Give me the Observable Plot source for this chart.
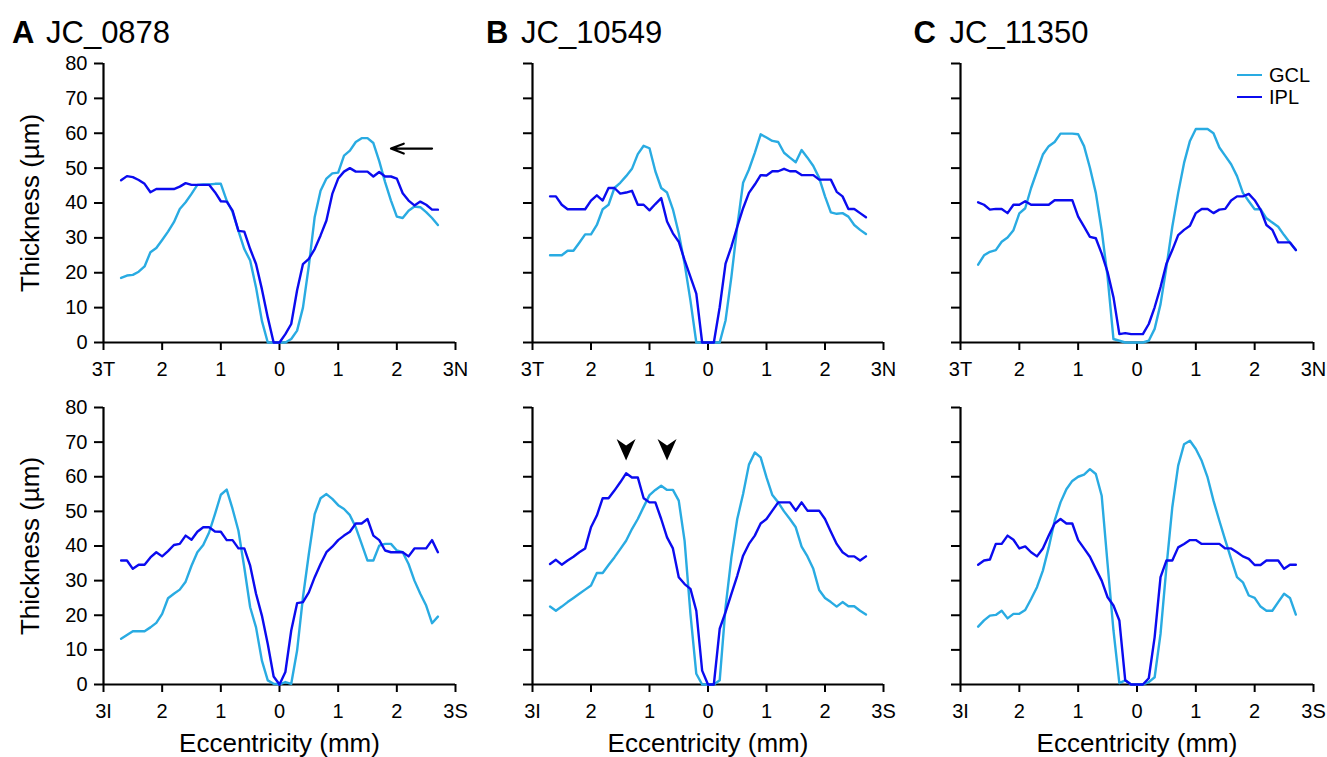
<!DOCTYPE html>
<html>
<head>
<meta charset="utf-8">
<script src="https://cdn.jsdelivr.net/npm/d3@7"></script>
<script src="https://cdn.jsdelivr.net/npm/@observablehq/plot@0.6"></script>
<style>
  html, body { margin: 0; padding: 0; background: #fff; }
  #fig { position: relative; width: 1327px; height: 757px; overflow: hidden; font-family: "Liberation Sans", Arial, sans-serif; color: #000; }
  .t { position: absolute; font-size: 31px; line-height: 31px; white-space: nowrap; }
  .t.b { font-weight: bold; }
  .leg { position: absolute; display: flex; align-items: center; font-size: 20px; line-height: 20px; white-space: nowrap; }
  .leg i { display: inline-block; width: 25px; height: 2.6px; margin-right: 7px; }
</style>
</head>
<body>
<div id="fig"></div>
<script>
// ---------- data ----------
const ecc = [-2.7,-2.6,-2.5,-2.4,-2.3,-2.2,-2.1,-2.0,-1.9,-1.8,-1.7,-1.6,-1.5,-1.4,-1.3,-1.2,-1.1,-1.0,-0.9,-0.8,-0.7,-0.6,-0.5,-0.4,-0.3,-0.2,-0.1,
  0,0.1,0.2,0.3,0.4,0.5,0.6,0.7,0.8,0.9,1.0,1.1,1.2,1.3,1.4,1.5,1.6,1.7,1.8,1.9,2.0,2.1,2.2,2.3,2.4,2.5,2.6,2.7];

const xTicks = [-3, -2, -1, 0, 1, 2, 3];
const xLabelsTN = ["3T", "2", "1", "0", "1", "2", "3N"];
const xLabelsIS = ["3I", "2", "1", "0", "1", "2", "3S"];
const yTicks = [0, 10, 20, 30, 40, 50, 60, 70, 80];

const panelIds = ["A", "B", "C"];
const panelNames = ["JC_0878", "JC_10549", "JC_11350"];
const layers = ["GCL", "IPL"];
const layerColors = ["#29abe2", "#0b0bef"];

// Horizontal meridian (T–N)
const aTopGCL = [18.5,19.2,19.4,20.3,21.8,25.9,27.1,29.4,31.8,34.5,38.3,40.2,42.6,45.2,45.3,45.3,45.5,45.5,40.7,37.4,32,26.8,23.5,15.8,6.2,0,0,
  0,0,1,3.4,10,22,36,43.5,47,48.5,48.7,53.6,55,57.5,58.6,58.6,57.2,52,46,40.7,36.1,35.7,37.8,39,38.8,37.4,35.7,33.7];
const aTopIPL = [46.5,47.7,47.4,46.6,45.5,43.1,44,44,44,44,44.7,45.7,45.2,45.2,45.2,45.2,43.1,40.5,40.4,37.8,32,31.8,26.8,22.5,15.3,7.2,0,
  0,2.4,5.3,15,22.5,24,26.8,30.7,35,42.6,47,49,50,49,49,49,47.6,48.9,47.6,47.6,47,42.8,40.7,39.3,40.4,39.5,38.1,38.1];
const bTopGCL = [25,25,25,26.3,26.3,28.6,31,31,33.7,38.2,39.5,44.3,45.8,47.7,49.8,54,56.4,55.7,49.1,44.3,43,38.2,31.3,22.6,12,0,0,
  0,0,0,6.3,18.8,33.2,45.8,49.6,54.4,59.7,58.8,57.8,57.5,54.4,53,51.7,55.2,53,50.6,47.2,41.9,37.3,36.9,37.1,36.1,33.7,32.3,31.1];
const bTopIPL = [41.9,41.9,39.5,38.2,38.2,38.2,38.2,40.7,42.2,40.7,44.3,44.3,42.7,43,43.5,39.5,39.5,37.9,39.7,41.4,34.7,31.3,28.9,23.6,18.8,14,0,
  0,0,10.1,22.6,27.5,33.2,38.5,42.9,45.3,48,47.9,49.1,49.1,49.8,49.1,49.1,48,48,48,46.7,46.7,46.7,43.2,41.9,38.3,38.3,37.1,35.9];
const cTopGCL = [22.3,25,26,26.5,28.9,30.1,32.2,37,38.5,44.3,49.1,53.9,56.3,57.5,59.9,59.9,59.9,59.7,56.3,50.1,42.9,32.2,18.8,1,0.5,0,0,
  0,0,0.5,3.9,11,21.6,33.2,42.9,51.5,57.8,61.2,61.2,61.2,60,55.9,53.5,51.1,47.7,42.9,40.5,38.2,38.2,35.6,34.4,33.2,30.8,28.6,26.5];
const cTopIPL = [40.2,39.5,38.1,38.3,38.3,37.1,39.5,39.5,40.5,39.5,39.5,39.5,39.5,40.8,40.8,40.8,40.8,36.1,33.2,30.3,29.9,25.5,20.2,13,2.4,2.7,2.4,
  2.4,2.4,5.3,10.1,15.9,22.6,26.5,30.8,32.3,33.5,37.1,38.3,38.3,37.1,38.1,38.3,40.7,41.9,41.9,42.6,40.8,38.1,33.7,32.3,28.7,28.7,28.7,26.5];

// Vertical meridian (I–S)
const aBotGCL = [13.2,14.3,15.4,15.4,15.4,16.5,17.8,20.4,24.9,26.2,27.4,29.7,34.3,38.2,40.3,43.9,49.2,54.8,56.3,50.7,44.4,33.8,22.3,16.5,6.9,1.2,0.2,
  0,0.7,0.2,9.8,25.2,37.7,49.2,53.8,55,53.6,51.8,50.7,48.9,45.4,40.6,35.8,35.8,40.1,40.6,40.6,38.7,38.2,34.8,30,26.2,22.8,17.7,19.6];
const aBotIPL = [35.8,35.8,33.4,34.6,34.6,36.7,38.2,37,38.5,40.3,40.6,43,41.8,44.1,45.4,45.4,44.2,44.1,41.7,41.7,39.3,39.3,34.3,26.2,19.9,11.7,2.3,
  0,3.6,15.6,23.5,23.8,26.6,31,34.8,38.2,39.8,41.7,43,44.1,46.5,46.5,47.8,43,41.7,38.7,38.2,38.2,38.2,37,39.3,39.3,39.3,41.7,38.2];
const bBotGCL = [22.5,21.3,22.5,23.8,25,26.2,27.4,28.6,32.2,32.2,34.5,36.7,39.1,41.5,44.9,47.8,51.3,54.7,56.2,57.4,56.2,56.2,53.1,41.5,20.4,3.1,0,
  0,0,1.2,22.3,36.7,47.8,55,63.5,67,65.6,59.8,54.7,52.6,50,47.8,45.4,39.8,37,33.4,27.3,25,23.8,22.5,23.8,22.6,22.6,21.3,20.2];
const bBotIPL = [34.8,36,34.6,35.8,36.9,38.2,39.3,45.4,48.8,53.8,53.8,56,58.4,61,59.8,59.8,53.8,52.6,52.6,47.8,42.5,39.3,31,29,27.6,21.3,4,
  0,0,16.1,20.9,26.2,31.4,37.2,40.6,43,46.5,47.8,50.2,52.6,52.6,52.6,50.2,52.6,50.2,50.2,50.2,47.8,44.1,40.6,38.2,37,37,35.8,37];
const cBotGCL = [16.7,18.5,19.9,20.1,21.3,19.1,20.4,20.4,21.5,24.7,28.1,32.9,39.6,47.3,52.6,56.4,58.8,60,60.6,62.2,60.8,54.5,34.8,15.6,0.4,1.2,0,
  0,0,0.7,2.1,14.6,33.8,51.2,63.2,69.4,70.4,68,64.6,59.8,53.1,47.3,41.7,36.3,31,29.5,25.7,25,22.5,21.3,21.3,23.8,26.2,25,20.2];
const cBotIPL = [34.6,35.8,36.1,40.6,40.6,43,41.8,39.3,39.9,38.2,37,39.3,43,46.5,47.8,46.5,46.5,41.7,39.3,36.9,33.4,30,25.2,22.8,18.5,1.2,0,
  0,0,1.8,13.7,31,35.8,35.8,39.6,40.6,41.7,41.7,40.6,40.6,40.6,40.6,39.3,39.3,38.2,37,36.3,34.5,34.5,35.8,35.8,35.8,33.4,34.6,34.6];

// annotations
const arrowA = [{x1: 2.6, x2: 1.9, y: 55.6}];            // arrow in panel A (top)
const arrowheadsB = [{x: -1.4, y: 64.7}, {x: -0.7, y: 64.7}]; // arrowheads in panel B (bottom), tip positions

// ---------- layout ----------
const FONT = '"Liberation Sans", Arial, Helvetica, sans-serif';
const cols = [
  {left: 0,   width: 470, ml: 103, mr: 15},
  {left: 470, width: 430, ml: 62,  mr: 17},
  {left: 900, width: 427, ml: 60,  mr: 14}
];
const rows = [
  {top: 0,   height: 385, mt: 63, mb: 43, labels: xLabelsTN},
  {top: 385, height: 372, mt: 22, mb: 73, labels: xLabelsIS}
];
const series = [
  [[aTopGCL, aTopIPL], [bTopGCL, bTopIPL], [cTopGCL, cTopIPL]],
  [[aBotGCL, aBotIPL], [bBotGCL, bBotIPL], [cBotGCL, cBotIPL]]
];

const chevron = {
  draw(ctx) {
    ctx.moveTo(0, 0);
    ctx.lineTo(-9.5, -21.5);
    ctx.lineTo(0, -15);
    ctx.lineTo(9.5, -21.5);
    ctx.closePath();
  }
};

const fig = document.getElementById("fig");

rows.forEach((row, r) => {
  cols.forEach((col, c) => {
    const [gcl, ipl] = series[r][c];
    const marks = [
      Plot.axisY({ticks: yTicks, tickSize: 9, tickPadding: 7, strokeWidth: 2, fontSize: 20, label: null,
                  tickFormat: c === 0 ? (d => String(d)) : (() => "")}),
      Plot.axisX({ticks: xTicks, tickSize: 8, tickPadding: 11, strokeWidth: 2, fontSize: 20, label: null,
                  tickFormat: d => row.labels[xTicks.indexOf(d)]}),
      Plot.ruleX([-3], {y1: 0, y2: 80, stroke: "#000", strokeWidth: 2.2}),
      Plot.ruleY([0], {x1: -3, x2: 3, stroke: "#000", strokeWidth: 2.2}),
      Plot.line(gcl, {x: (d, i) => ecc[i], y: d => d, stroke: layerColors[0], strokeWidth: 2.4, strokeLinejoin: "round"}),
      Plot.line(ipl, {x: (d, i) => ecc[i], y: d => d, stroke: layerColors[1], strokeWidth: 2.4, strokeLinejoin: "round"})
    ];
    if (c === 0) {
      marks.push(Plot.text(["Thickness (µm)"], {text: d => d, frameAnchor: "left", dx: -65, rotate: -90,
        textAnchor: "middle", lineAnchor: "bottom", fontSize: 26, fill: "#000"}));
    }
    if (r === 1) {
      marks.push(Plot.text(["Eccentricity (mm)"], {text: d => d, frameAnchor: "bottom", dy: 67,
        textAnchor: "middle", lineAnchor: "bottom", fontSize: 26, fill: "#000"}));
    }
    if (r === 0 && c === 0) {
      marks.push(Plot.arrow(arrowA, {x1: "x1", x2: "x2", y1: "y", y2: "y", stroke: "#000", strokeWidth: 2.2,
        headLength: 10, headAngle: 42}));
    }
    if (r === 1 && c === 1) {
      marks.push(Plot.dot(arrowheadsB, {x: "x", y: "y", symbol: chevron, fill: "#000", stroke: "none"}));
    }
    const svg = Plot.plot({
      width: col.width,
      height: row.height,
      marginLeft: col.ml,
      marginRight: col.mr,
      marginTop: row.mt,
      marginBottom: row.mb,
      x: {domain: [-3, 3], label: null},
      y: {domain: [0, 80], label: null},
      style: {fontFamily: FONT, fontSize: "20px", color: "#000", background: "transparent", overflow: "visible"},
      marks
    });
    svg.style.position = "absolute";
    svg.style.left = col.left + "px";
    svg.style.top = row.top + "px";
    fig.appendChild(svg);
  });
});

// titles
const titlePos = [{id: 12, name: 46}, {id: 486, name: 521}, {id: 913.5, name: 949.5}];
panelIds.forEach((id, i) => {
  const a = document.createElement("div");
  a.className = "t b"; a.textContent = id;
  a.style.left = titlePos[i].id + "px"; a.style.top = "16.5px";
  fig.appendChild(a);
  const n = document.createElement("div");
  n.className = "t"; n.textContent = panelNames[i];
  n.style.left = titlePos[i].name + "px"; n.style.top = "16.5px";
  fig.appendChild(n);
});

// legend
const legTops = [65, 87];
layers.forEach((name, i) => {
  const d = document.createElement("div");
  d.className = "leg";
  d.style.left = "1237px";
  d.style.top = legTops[i] + "px";
  const sw = document.createElement("i");
  sw.style.background = layerColors[i];
  d.appendChild(sw);
  const s = document.createElement("span");
  s.textContent = name;
  d.appendChild(s);
  fig.appendChild(d);
});
</script>
</body>
</html>
